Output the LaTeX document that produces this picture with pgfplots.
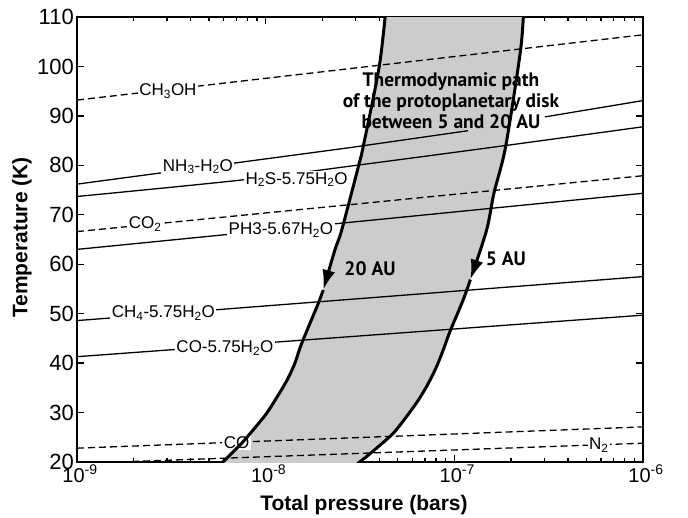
\documentclass[border=0pt]{standalone}
\usepackage{fontspec}
\setmainfont{Liberation Sans}
\newfontfamily\annfont{PT Sans}
\usepackage{pgfplots}
\pgfplotsset{compat=1.18}
\usetikzlibrary{arrows.meta}

% condensation curves, x = log10(P/bar), y = T (K)
\pgfplotstableread{
lp T
-9 93.2
-6 106.4
}\chohtab

\begin{document}
\begin{tikzpicture}[
  lbl/.style={fill=white, inner sep=1.5pt, font=\fontsize{17}{20}\selectfont},
  thin/.style={black, line width=1.3pt},
  dsh/.style={black, line width=1.3pt, dash pattern=on 7pt off 4pt},
  path/.style={black, line width=3pt, smooth},
  ann/.style={font=\annfont\bfseries\fontsize{19.5}{21}\selectfont},
]
\useasboundingbox (-77pt,-55pt) rectangle (611pt,462pt);
\begin{axis}[
  scale only axis, width=566pt, height=445pt,
  xmin=-9, xmax=-6, ymin=20, ymax=110,
  xtick={-9,-8,-7,-6},
  xticklabels={{10\textsuperscript{-9}},{10\textsuperscript{-8}},{10\textsuperscript{-7}},{10\textsuperscript{-6}}},
  minor xtick={-8.699,-8.523,-8.398,-8.301,-8.222,-8.155,-8.097,-8.046,
               -7.699,-7.523,-7.398,-7.301,-7.222,-7.155,-7.097,-7.046,
               -6.699,-6.523,-6.398,-6.301,-6.222,-6.155,-6.097,-6.046},
  ytick={20,30,...,110},
  /pgf/number format/assume math mode=true,
  xticklabel style={font=\fontsize{20}{22}\selectfont, inner sep=1pt, xshift=3pt, yshift=-2pt},
  yticklabel style={font=\fontsize{22}{24}\selectfont, inner sep=1pt, xshift=-2pt},
  axis line style={line width=1.8pt},
  major tick length=7pt, minor tick length=4pt,
  every tick/.style={black, line width=1.4pt},
  xlabel={\bfseries Total pressure (bars)},
  ylabel={\bfseries Temperature (K)},
  label style={font=\fontsize{21}{24}\selectfont},
  xlabel style={at={(axis description cs:0.507,-0.0966)}, anchor=center},
  ylabel style={at={(axis description cs:-0.0972,0.5045)}, anchor=center},
]

% grey band between the 20 AU and 5 AU paths
\addplot[fill=gray!40, draw=none] coordinates {
  (-7.362,112) (-7.368,110) (-7.398,100) (-7.483,83.8) (-7.509,79.7) (-7.597,66.9)
  (-7.633,62.9) (-7.695,54.8) (-7.721,52.1) (-7.809,44.0) (-7.845,40.0) (-7.886,36.6)
  (-7.939,33.2) (-7.995,29.85) (-8.066,26.5) (-8.127,23.8) (-8.216,20.4) (-8.257,19)
  (-7.532,19.07) (-7.500,20.06) (-7.465,21.1) (-7.403,23.1) (-7.324,25.8) (-7.253,29.2)
  (-7.191,32.5) (-7.138,35.9) (-7.094,39.3) (-7.059,42.65) (-7.023,46.4) (-6.953,52.8)
  (-6.915,56.9) (-6.829,66.9) (-6.790,74.4) (-6.728,83.8) (-6.649,103.3) (-6.635,110) (-6.632,112)
};

% ices (dashed) and clathrates / hydrates (solid)
\addplot[dsh] table {\chohtab};
\addplot[thin] coordinates {(-9,76.2) (-7.55,83.6) (-6.928,87.0)};
\addplot[thin] coordinates {(-6.52,89.8) (-6,93.1)};
\addplot[thin, smooth] coordinates {(-9,73.7) (-8.136,77.0) (-7.5,80.1) (-6.73,84.0) (-6,87.8)};
\addplot[dsh] coordinates {(-9,66.6) (-6,77.9)};
\addplot[thin] coordinates {(-9,63.0) (-6,74.35)};
\addplot[thin] coordinates {(-9,48.6) (-6,57.5)};
\addplot[thin] coordinates {(-9,41.3) (-6,49.7)};
\addplot[dsh] coordinates {(-9,22.8) (-6,27.1)};
\addplot[dsh] coordinates {(-9,19.7) (-6,23.8)};

\node[lbl] at (axis cs:-8.518,95.0) {CH\textsubscript{3}OH};
\node[lbl] at (axis cs:-8.359,79.7) {NH\textsubscript{3}-H\textsubscript{2}O};
\node[lbl] at (axis cs:-7.836,77.1) {H\textsubscript{2}S-5.75H\textsubscript{2}O};
\node[lbl] at (axis cs:-8.639,68.1) {CO\textsubscript{2}};
\node[lbl] at (axis cs:-7.919,66.9) {PH3-5.67H\textsubscript{2}O};
\node[lbl] at (axis cs:-8.542,50.1) {CH\textsubscript{4}-5.75H\textsubscript{2}O};
\node[lbl] at (axis cs:-8.216,43.1) {CO-5.75H\textsubscript{2}O};
\node[lbl] at (axis cs:-8.154,24.0) {CO};
\node[lbl] at (axis cs:-6.234,23.4) {N\textsubscript{2}};

% thermodynamic paths
\addplot[path, -{Latex[length=20pt,width=13pt]}] coordinates {
  (-7.362,112) (-7.398,100) (-7.483,83.8) (-7.509,79.7) (-7.597,66.9) (-7.633,62.9) (-7.695,54.8)};
\addplot[path] coordinates {
  (-7.695,54.8) (-7.721,52.1) (-7.809,44.0) (-7.845,40.0) (-7.886,36.6) (-7.939,33.2)
  (-7.995,29.85) (-8.066,26.5) (-8.127,23.8) (-8.216,20.4) (-8.257,19)};
\addplot[path, -{Latex[length=20pt,width=13pt]}] coordinates {
  (-6.632,112) (-6.649,103.3) (-6.728,83.8) (-6.790,74.4) (-6.829,66.9) (-6.915,56.9)};
\addplot[path] coordinates {
  (-6.915,56.9) (-6.953,52.8) (-7.023,46.4) (-7.059,42.65) (-7.094,39.3) (-7.138,35.9)
  (-7.191,32.5) (-7.253,29.2) (-7.324,25.8) (-7.403,23.1) (-7.465,21.1) (-7.500,20.06) (-7.532,19.07)};

\node[ann, align=center] at (axis cs:-7.018,93.0)
  {Thermodynamic path\\of the protoplanetary disk\\between 5 and 20 AU};
\node[ann] at (axis cs:-7.447,59.0) {20 AU};
\node[ann] at (axis cs:-6.727,61.1) {5 AU};
\end{axis}
\end{tikzpicture}
\end{document}
